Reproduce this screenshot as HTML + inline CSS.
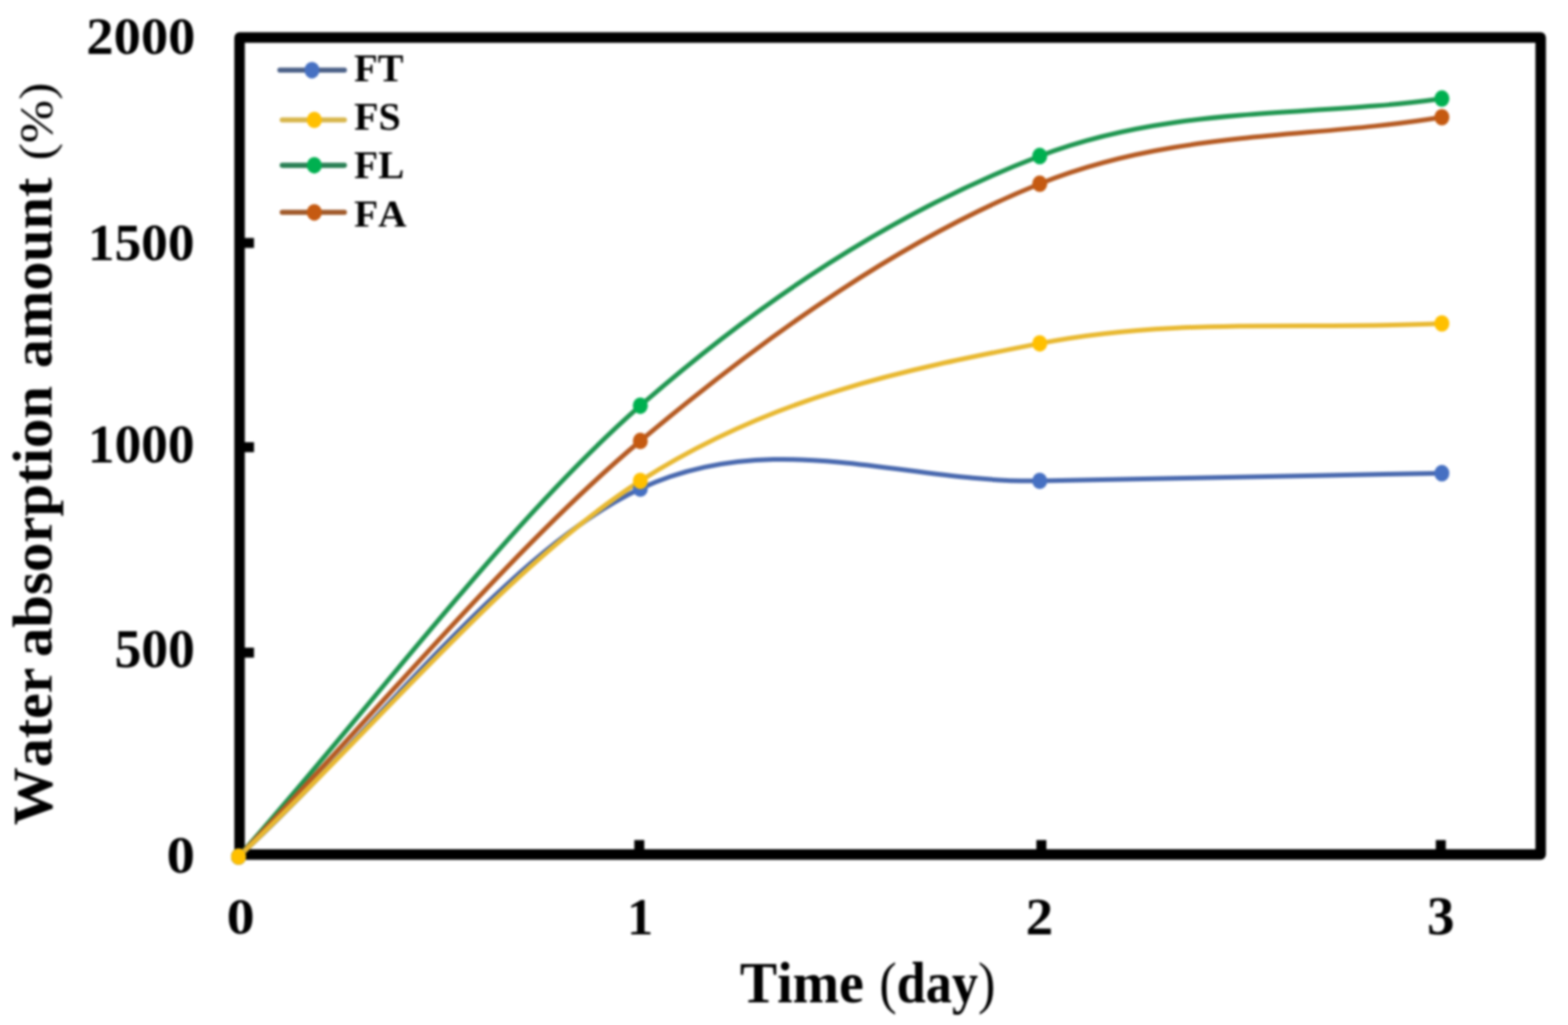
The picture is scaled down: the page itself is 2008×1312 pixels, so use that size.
<!DOCTYPE html>
<html><head><meta charset="utf-8"><title>Water absorption amount vs time</title>
<style>
html,body{margin:0;padding:0;background:#fff;}
body{width:2008px;height:1312px;overflow:hidden;}
svg{display:block;}
#wrap{filter:blur(1.5px);width:2008px;height:1312px;}
.t{font-family:"Liberation Serif","Times New Roman",serif;font-weight:bold;fill:#000;font-kerning:none;}
.r{font-weight:normal;}
</style></head>
<body>
<div id="wrap">
<svg width="2008" height="1312" viewBox="0 0 2008 1312">
<rect width="2008" height="1312" fill="#fff"/>
<path d="M306.8,1093.8 V48 H1973 V1093.8 Z" fill="none" stroke="#000" stroke-width="13.4" stroke-linejoin="round"/>
<rect x="812.3" y="1075.3" width="12.8" height="18.5" fill="#000"/>
<rect x="1327.2" y="1075.3" width="12.8" height="18.5" fill="#000"/>
<rect x="1838.7" y="1075.3" width="12.8" height="18.5" fill="#000"/>
<rect x="306.8" y="304.6" width="18.5" height="12.8" fill="#000"/>
<rect x="306.8" y="566.0" width="18.5" height="12.8" fill="#000"/>
<rect x="306.8" y="829.0" width="18.5" height="12.8" fill="#000"/>
<path d="M305.5,1096.5 C477.0,904.1 649.0,668.8 820.0,519.3 C991.0,369.8 1160.4,265.2 1331.5,199.7 C1502.6,134.2 1674.8,150.7 1846.5,126.2" fill="none" stroke="#1F9650" stroke-width="6.0" stroke-linecap="round"/>
<path d="M305.5,1096.5 C477.0,919.1 649.0,707.9 820.0,564.4 C991.0,420.9 1160.4,304.3 1331.5,235.2 C1502.6,166.1 1674.8,178.4 1846.5,150.0" fill="none" stroke="#B55A22" stroke-width="6.0" stroke-linecap="round"/>
<path d="M305.5,1096.5 C477.0,939.5 649.0,705.7 820.0,625.5 C991.0,545.3 1160.4,618.8 1331.5,615.5 C1502.6,612.2 1674.8,609.0 1846.5,605.7" fill="none" stroke="#4868AE" stroke-width="6.0" stroke-linecap="round"/>
<path d="M305.5,1096.5 C477.0,936.2 649.0,725.1 820.0,615.6 C991.0,506.1 1160.4,473.2 1331.5,439.6 C1502.6,406.0 1674.8,422.5 1846.5,414.0" fill="none" stroke="#E8B830" stroke-width="6.0" stroke-linecap="round"/>
<ellipse cx="305.5" cy="1096.5" rx="9.6" ry="10.6" fill="#00B050"/>
<ellipse cx="820" cy="519.3" rx="9.6" ry="10.6" fill="#00B050"/>
<ellipse cx="1331.5" cy="199.7" rx="9.6" ry="10.6" fill="#00B050"/>
<ellipse cx="1846.5" cy="126.2" rx="9.6" ry="10.6" fill="#00B050"/>
<ellipse cx="305.5" cy="1096.5" rx="9.6" ry="10.6" fill="#C55A11"/>
<ellipse cx="820" cy="564.4" rx="9.6" ry="10.6" fill="#C55A11"/>
<ellipse cx="1331.5" cy="235.2" rx="9.6" ry="10.6" fill="#C55A11"/>
<ellipse cx="1846.5" cy="150" rx="9.6" ry="10.6" fill="#C55A11"/>
<ellipse cx="305.5" cy="1096.5" rx="9.6" ry="10.6" fill="#4670C2"/>
<ellipse cx="820" cy="625.5" rx="9.6" ry="10.6" fill="#4670C2"/>
<ellipse cx="1331.5" cy="615.5" rx="9.6" ry="10.6" fill="#4670C2"/>
<ellipse cx="1846.5" cy="605.7" rx="9.6" ry="10.6" fill="#4670C2"/>
<ellipse cx="305.5" cy="1096.5" rx="9.6" ry="10.6" fill="#FFC000"/>
<ellipse cx="820" cy="615.6" rx="9.6" ry="10.6" fill="#FFC000"/>
<ellipse cx="1331.5" cy="439.6" rx="9.6" ry="10.6" fill="#FFC000"/>
<ellipse cx="1846.5" cy="414" rx="9.6" ry="10.6" fill="#FFC000"/>
<line x1="358.5" y1="89.8" x2="441" y2="89.8" stroke="#4C6188" stroke-width="6.6" stroke-linecap="round"/>
<ellipse cx="399.5" cy="89.8" rx="9.6" ry="10.6" fill="#4670C2"/>
<line x1="361.5" y1="153.5" x2="441" y2="153.5" stroke="#D8B64C" stroke-width="6.6" stroke-linecap="round"/>
<ellipse cx="402.5" cy="153.5" rx="9.6" ry="10.6" fill="#FFC000"/>
<line x1="361.5" y1="211.6" x2="441" y2="211.6" stroke="#2A8055" stroke-width="6.6" stroke-linecap="round"/>
<ellipse cx="402.5" cy="211.6" rx="9.6" ry="10.6" fill="#00B050"/>
<line x1="361.5" y1="271.8" x2="441" y2="271.8" stroke="#A05A2A" stroke-width="6.6" stroke-linecap="round"/>
<ellipse cx="402.5" cy="271.8" rx="9.6" ry="10.6" fill="#C55A11"/>
<text class="t" font-size="68" transform="matrix(1.0262,0,0,0.9909,110.62,69.00)">2000</text>
<text class="t" font-size="68" transform="matrix(1.0047,0,0,1.0045,112.48,332.50)">1500</text>
<text class="t" font-size="68" transform="matrix(1.0047,0,0,1.0227,112.48,591.80)">1000</text>
<text class="t" font-size="68" transform="matrix(1.0083,0,0,1.0159,146.78,854.20)">500</text>
<text class="t" font-size="68" transform="matrix(1.0714,0,0,0.9864,213.29,1116.50)">0</text>
<text class="t" font-size="68" transform="matrix(1.0536,0,0,0.9750,290.14,1195.20)">0</text>
<text class="t" font-size="68" transform="matrix(0.9840,0,0,1.0000,802.98,1195.50)">1</text>
<text class="t" font-size="68" transform="matrix(1.0357,0,0,1.0000,1313.39,1195.50)">2</text>
<text class="t" font-size="68" transform="matrix(1.0345,0,0,1.0159,1827.40,1195.50)">3</text>
<text class="t" font-size="52" transform="matrix(0.9508,0,0,0.9800,453.55,104.30)">FT</text>
<text class="t" font-size="52" transform="matrix(0.9825,0,0,0.9686,453.52,166.10)">FS</text>
<text class="t" font-size="52" transform="matrix(0.9651,0,0,0.9686,453.53,227.80)">FL</text>
<text class="t" font-size="52" transform="matrix(0.9676,0,0,0.9514,453.53,289.50)">FA</text>
<text class="t" font-size="73" transform="matrix(0.9792,0,0,1,947.52,1283.0)">Time</text>
<text class="t" font-size="73" transform="matrix(0.9167,0,0,1,1125.95,1283.0)"><tspan class="r">(</tspan>day<tspan class="r">)</tspan></text>
<text class="t" font-size="72" transform="matrix(0,-1.0295,1.0000,0,66.30,1056.13)">Water</text>
<text class="t" font-size="72" transform="matrix(0,-1.0447,1.0000,0,66.30,840.99)">absorption</text>
<text class="t" font-size="72" transform="matrix(0,-1.0325,1.0000,0,66.30,471.16)">amount</text>
<text class="t" font-size="72" transform="matrix(0,-0.9235,0.8431,0,67.35,205.27)"><tspan class="r">(%)</tspan></text>
</svg>
</div>
</body></html>
